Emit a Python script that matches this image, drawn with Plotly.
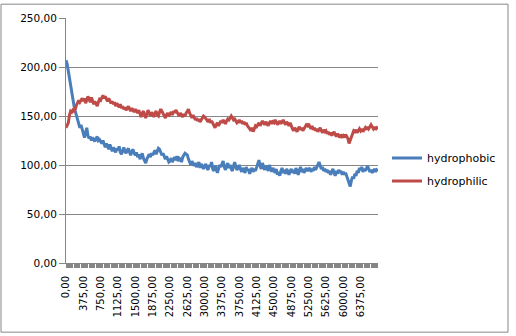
import plotly.graph_objects as go

# Category step and series values (one row = one 375-wide label interval)
step = 25

hydrophobic = [
    207, 203, 196, 188, 182, 176, 166, 160, 155, 150, 146, 143, 138, 141, 136,
    132, 128, 133, 138, 130, 127, 129, 125, 128, 126, 124, 127, 129, 125, 126,
    124, 122, 125, 120, 118, 122, 119, 116, 121, 117, 114, 118, 116, 113, 117,
    115, 119, 113, 111, 116, 118, 114, 112, 115, 117, 113, 110, 114, 116, 112,
    110, 113, 108, 111, 106, 109, 112, 107, 104, 102, 106, 109, 111, 108, 112,
    110, 113, 115, 111, 114, 117, 116, 113, 110, 112, 108, 106, 109, 105, 103,
    104, 107, 103, 106, 108, 105, 109, 104, 107, 106, 103, 108, 110, 112, 111,
    110, 106, 103, 100, 104, 101, 99, 102, 98, 100, 103, 97, 101, 99, 96,
    99, 101, 97, 95, 100, 98, 103, 96, 94, 99, 97, 92, 96, 100, 98,
    101, 104, 98, 95, 99, 102, 97, 100, 96, 94, 99, 103, 98, 95, 97,
    100, 96, 93, 97, 95, 92, 98, 94, 96, 91, 95, 97, 93, 96, 94,
    97, 101, 105, 99, 96, 102, 98, 95, 99, 97, 94, 100, 96, 93, 97,
    95, 92, 96, 90, 93, 89, 94, 97, 92, 95, 91, 96, 93, 90, 94,
    96, 92, 95, 91, 97, 94, 90, 95, 98, 93, 96, 92, 95, 97, 94,
    95, 97, 93, 96, 94, 98, 95, 97, 100, 103, 99, 96, 98, 94, 96,
    93, 95, 92, 94, 90, 93, 96, 92, 89, 94, 91, 95, 92, 94, 90,
    93, 90, 92, 88, 85, 80, 78, 84, 88, 86, 91, 89, 94, 92, 97,
    95, 98, 93, 96, 94, 97, 99, 96, 93, 95, 92, 94, 96, 93, 95,
    94,
]

hydrophilic = [
    138, 140, 143, 151, 155, 154, 156, 155, 157, 161, 163, 166, 164, 167, 168,
    165, 168, 163, 166, 170, 167, 164, 169, 166, 162, 165, 163, 160, 164, 167,
    166, 169, 171, 168, 170, 167, 165, 168, 166, 163, 165, 162, 164, 160, 163,
    161, 159, 162, 158, 160, 157, 159, 156, 158, 160, 157, 155, 158, 156, 154,
    157, 155, 153, 156, 152, 149, 153, 155, 151, 148, 152, 156, 153, 150, 154,
    152, 149, 153, 155, 151, 150, 154, 157, 155, 152, 150, 148, 151, 153, 150,
    152, 154, 151, 155, 153, 156, 154, 152, 150, 153, 151, 149, 152, 150, 153,
    155, 157, 153, 150, 148, 151, 149, 146, 148, 145, 147, 144, 146, 148, 150,
    149, 147, 146, 144, 147, 143, 145, 142, 140, 138, 141, 143, 140, 142, 145,
    143, 146, 144, 142, 145, 147, 146, 149, 150, 148, 146, 147, 145, 143, 144,
    146, 143, 145, 142, 144, 141, 143, 140, 139, 137, 135, 138, 134, 137, 140,
    139, 141, 143, 140, 142, 145, 143, 141, 144, 142, 140, 143, 145, 142, 144,
    143, 146, 144, 141, 143, 145, 142, 144, 146, 143, 141, 144, 142, 140, 143,
    139, 137, 135, 138, 136, 134, 137, 139, 136, 138, 135, 137, 139, 141, 140,
    142, 139, 137, 140, 136, 138, 135, 137, 134, 136, 138, 135, 133, 136, 134,
    135, 132, 134, 131, 133, 130, 132, 134, 131, 129, 132, 130, 128, 131, 129,
    130, 128, 131, 129, 127, 122, 125, 130, 133, 135, 134, 136, 133, 135, 137,
    135, 137, 134, 136, 138, 136, 139, 137, 140, 141, 139, 137, 139, 136, 138,
    137,
]

x_values = [i * step for i in range(len(hydrophobic))]
label_step = 375
x_labels = list(range(0, 6376, label_step))
y_ticks = [0, 50, 100, 150, 200, 250]

grey = "#868686"
font = "DejaVu Sans"

fig = go.Figure()
fig.add_trace(go.Scatter(
    x=x_values, y=hydrophobic, mode="lines", name="hydrophobic",
    legendgroup="a", line=dict(color="#4A7EBB", width=3),
))
fig.add_trace(go.Scatter(
    x=x_values, y=hydrophilic, mode="lines", name="hydrophilic",
    legendgroup="b", line=dict(color="#BE4B48", width=3),
))

# plot area in pixels: x 66..378, y 15..263
L, R, T, B = 66, 378, 15, 263
W, H = 516, 336
pw, ph = R - L, B - T

def px_to_paper(px, py):
    return (px - L) / pw, (B - py) / ph

x0, y1 = px_to_paper(1, 1)
x1, y0 = px_to_paper(508, 333)

fig.update_layout(
    width=W, height=H,
    margin=dict(l=L, r=W - R, t=T, b=H - B, pad=0),
    paper_bgcolor="white", plot_bgcolor="white",
    separators=",.",
    font=dict(family=font, size=10, color="black"),
    showlegend=True,
    legend=dict(
        x=px_to_paper(387, 0)[0], y=px_to_paper(0, 142)[1],
        xanchor="left", yanchor="top",
        font=dict(family=font, size=11, color="black"),
        tracegroupgap=4, bgcolor="rgba(0,0,0,0)",
    ),
    xaxis=dict(
        range=[0, (len(hydrophobic) - 1) * step + 1],
        tickmode="array", tickvals=x_labels, tickformat=".2f",
        tickangle=-90, ticks="outside", ticklen=4, tickcolor=grey,
        ticklabelstandoff=4,
        minor=dict(dtick=step, tick0=0, ticks="outside", ticklen=4,
                   tickcolor=grey, showgrid=False),
        showline=True, linecolor=grey, linewidth=1,
        showgrid=False, zeroline=False,
        tickfont=dict(family=font, size=10, color="black"),
    ),
    yaxis=dict(
        range=[0, 250], tickvals=y_ticks, tickformat=".2f",
        ticks="outside", ticklen=6, tickcolor=grey,
        showline=True, linecolor=grey, linewidth=1,
        showgrid=True, gridcolor=grey, gridwidth=1, zeroline=False,
        tickfont=dict(family=font, size=10.5, color="black"),
    ),
    shapes=[dict(
        type="rect", xref="paper", yref="paper",
        x0=x0, x1=x1, y0=y0, y1=y1,
        line=dict(color=grey, width=1), fillcolor="rgba(0,0,0,0)",
        layer="below",
    )],
)

fig.write_html("out.html")
